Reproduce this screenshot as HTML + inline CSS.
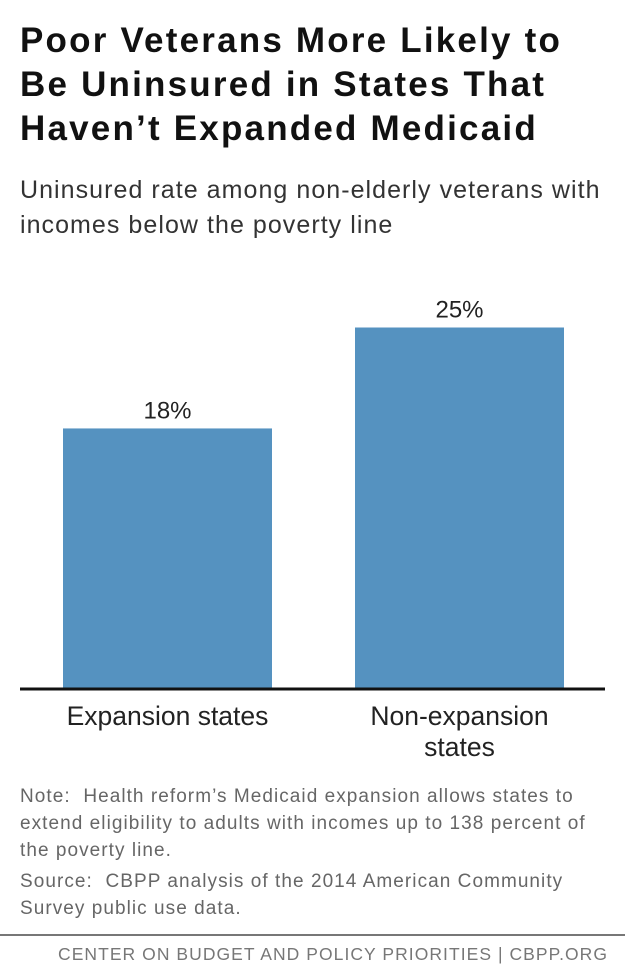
<!DOCTYPE html>
<html><head><meta charset="utf-8"><style>
body{margin:0;width:625px;height:976px;background:#fff;position:relative;overflow:hidden;font-family:"Liberation Sans",sans-serif}
.t{position:absolute;white-space:nowrap}
#title{left:20px;top:19px;font-size:35px;letter-spacing:2.2px;font-weight:bold;line-height:44px;color:#111}
#sub{left:20px;top:173px;font-size:25px;letter-spacing:1.05px;line-height:35px;color:#333}
.note{left:20px;font-size:19px;letter-spacing:1.05px;line-height:27px;color:#666}
#footer{right:17px;top:944px;font-size:17.5px;color:#777;letter-spacing:1.05px}
</style></head><body>
<div class="t" id="title">Poor Veterans More Likely to<br>Be Uninsured in States That<br>Haven’t Expanded Medicaid</div>
<div class="t" id="sub">Uninsured rate among non-elderly veterans with<br>incomes below the poverty line</div>
<svg id="chart" width="625" height="780" style="position:absolute;left:0;top:0"></svg>
<div class="t note" style="top:783px">Note:&nbsp; Health reform’s Medicaid expansion allows states to<br>extend eligibility to adults with incomes up to 138 percent of<br>the poverty line.</div>
<div class="t note" style="top:868px">Source:&nbsp; CBPP analysis of the 2014 American Community<br>Survey public use data.</div>
<div style="position:absolute;left:0;top:934px;width:625px;height:2px;background:#777"></div>
<div class="t" id="footer">CENTER ON BUDGET AND POLICY PRIORITIES | CBPP.ORG</div>
<script>
const categories=[["Expansion states"],["Non-expansion","states"]];
const values=[18,25];
const labels=["18%","25%"];
const svg=document.getElementById('chart');
const NS='http://www.w3.org/2000/svg';
const baseY=688, pxPer=14.42;
const y=v=>baseY-v*pxPer;
const x=i=>63+i*292;
const bw=209;
values.forEach((v,i)=>{
  const r=document.createElementNS(NS,'rect');
  r.setAttribute('x',x(i));r.setAttribute('y',y(v));r.setAttribute('width',bw);r.setAttribute('height',baseY-y(v));
  r.setAttribute('fill','#5592c0');
  
  
  svg.appendChild(r);
  const t=document.createElementNS(NS,'text');
  t.setAttribute('x',x(i)+bw/2);t.setAttribute('y',y(v)-10);t.setAttribute('text-anchor','middle');
  t.setAttribute('font-size','24');t.setAttribute('fill','#222');t.textContent=labels[i];
  
  
  svg.appendChild(t);
  categories[i].forEach((line,j)=>{
    const c=document.createElementNS(NS,'text');
    c.setAttribute('x',x(i)+bw/2);c.setAttribute('y',725+j*31);c.setAttribute('text-anchor','middle');
    c.setAttribute('font-size','26.5');c.setAttribute('fill','#222');c.textContent=line;
    
    
    svg.appendChild(c);
  });
});
const ax=document.createElementNS(NS,'line');
ax.setAttribute('x1',20);ax.setAttribute('x2',605);ax.setAttribute('y1',baseY+1);ax.setAttribute('y2',baseY+1);
ax.setAttribute('stroke','#111');ax.setAttribute('stroke-width','3');


svg.appendChild(ax);
</script>
</body></html>
